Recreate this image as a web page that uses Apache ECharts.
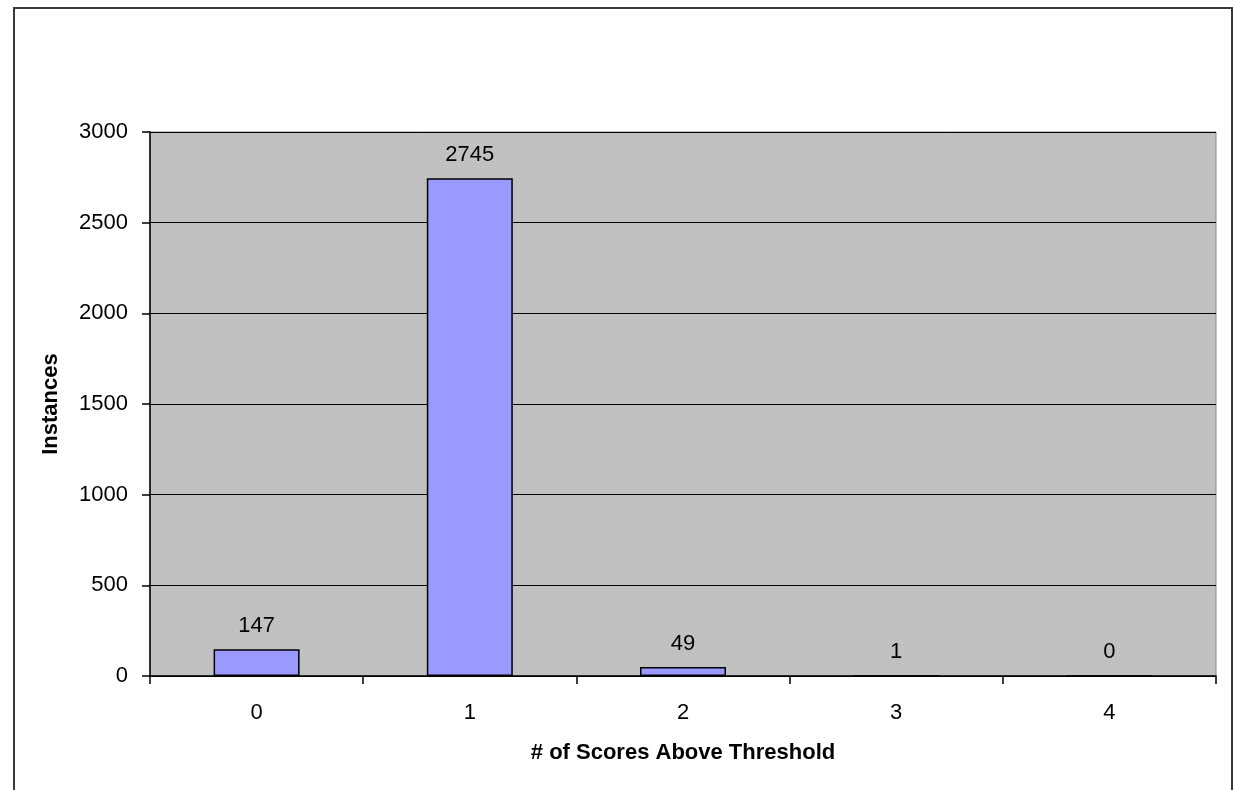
<!DOCTYPE html>
<html>
<head>
<meta charset="utf-8">
<script src="https://cdn.jsdelivr.net/npm/echarts@6/dist/echarts.min.js"></script>
<style>
  html, body { margin: 0; padding: 0; background: #ffffff; }
  #chart { width: 1234px; height: 790px; }
</style>
</head>
<body>
<div id="chart"></div>
<script>
// Score counts per number of scores above threshold
const categories = ['0', '1', '2', '3', '4'];
const instances = [147, 2745, 49, 1, 0];
const yTicks = { min: 0, max: 3000, interval: 500 };

// Stippled grey fill for the plotting area
function stipple() {
  const c = document.createElement('canvas');
  c.width = 8; c.height = 8;
  const g = c.getContext('2d');
  g.fillStyle = '#c0c0c0';
  g.fillRect(0, 0, 8, 8);
  g.fillStyle = '#cbcbcb';
  g.fillRect(1, 1, 1, 1);
  g.fillRect(5, 3, 1, 1);
  g.fillRect(3, 6, 1, 1);
  g.fillRect(7, 7, 1, 1);
  return c;
}

const chart = echarts.init(document.getElementById('chart'), null, { renderer: 'canvas' });
const font = 'Arial, "Liberation Sans", sans-serif';

chart.setOption({
  animation: false,
  backgroundColor: '#ffffff',
  textStyle: { fontFamily: font },
  graphic: [{
    type: 'rect',
    shape: { x: 14, y: 8, width: 1218, height: 800 },
    style: { fill: 'none', stroke: '#3a3a3a', lineWidth: 2 },
    z: 0
  }],
  grid: {
    left: 150, top: 132, right: 18, bottom: 114,
    show: true,
    backgroundColor: { image: stipple(), repeat: 'repeat' },
    borderColor: '#8a8a8a',
    borderWidth: 1
  },
  xAxis: {
    type: 'category',
    data: categories,
    name: '# of Scores Above Threshold',
    nameLocation: 'middle',
    nameGap: 66,
    nameTextStyle: { fontFamily: font, fontSize: 22, fontWeight: 'bold', color: '#000' },
    axisLine: { lineStyle: { color: '#000', width: 1.5 } },
    axisTick: { show: true, length: 8, lineStyle: { color: '#000', width: 1.5 } },
    axisLabel: { fontSize: 22, color: '#000', margin: 26, fontFamily: font },
    splitLine: { show: false }
  },
  yAxis: {
    type: 'value',
    min: yTicks.min,
    max: yTicks.max,
    interval: yTicks.interval,
    name: 'Instances',
    nameLocation: 'middle',
    nameGap: 88,
    nameTextStyle: { fontFamily: font, fontSize: 22, fontWeight: 'bold', color: '#000' },
    axisLine: { show: true, lineStyle: { color: '#000', width: 1.5 } },
    axisTick: { show: true, length: 8, lineStyle: { color: '#000', width: 1.5 } },
    axisLabel: {
      fontSize: 22, color: '#000', margin: 22, fontFamily: font,
      formatter: function (v) { return String(v); }
    },
    splitLine: { show: true, lineStyle: { color: '#000', width: 1.2 } }
  },
  series: [{
    type: 'bar',
    data: instances,
    barWidth: 86,
    itemStyle: { color: '#9999ff', borderColor: '#000', borderWidth: 1.5 },
    label: {
      show: true,
      position: 'top',
      distance: 12,
      fontSize: 22,
      color: '#000',
      fontFamily: font
    }
  }]
});
</script>
</body>
</html>
